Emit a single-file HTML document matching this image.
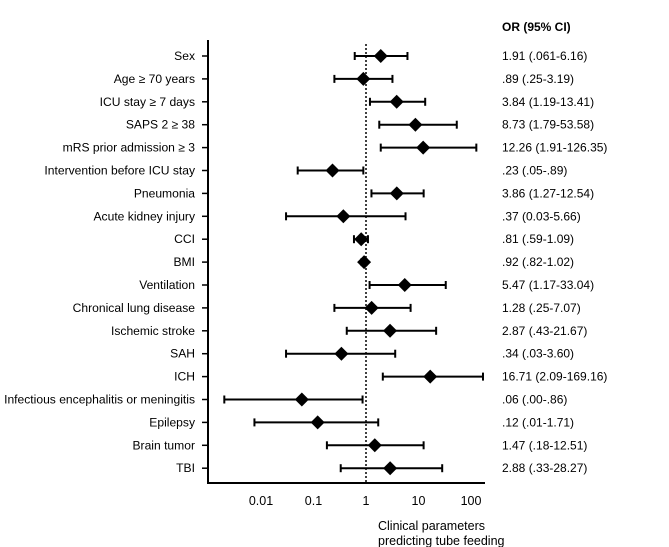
<!DOCTYPE html>
<html><head><meta charset="utf-8"><style>
body{margin:0;background:#fff;}
svg{display:block;font-family:"Liberation Sans",Arial,sans-serif;}
</style></head><body>
<svg id="c" width="669" height="547"></svg>
<script>
const labels=["Sex","Age ≥ 70 years","ICU stay ≥ 7 days","SAPS 2 ≥ 38","mRS prior admission ≥ 3","Intervention before ICU stay","Pneumonia","Acute kidney injury","CCI","BMI","Ventilation","Chronical lung disease","Ischemic stroke","SAH","ICH","Infectious encephalitis or meningitis","Epilepsy","Brain tumor","TBI"];
const orVals=[1.91,0.89,3.84,8.73,12.26,0.23,3.86,0.37,0.81,0.92,5.47,1.28,2.87,0.34,16.71,0.06,0.12,1.47,2.88];
const lowVals=[0.61,0.25,1.19,1.79,1.91,0.05,1.27,0.03,0.59,0.82,1.17,0.25,0.43,0.03,2.09,0.002,0.0075,0.18,0.33];
const highVals=[6.16,3.19,13.41,53.58,126.35,0.89,12.54,5.66,1.09,1.02,33.04,7.07,21.67,3.60,169.16,0.86,1.71,12.51,28.27];
const orText=["1.91 (.061-6.16)",".89 (.25-3.19)","3.84 (1.19-13.41)","8.73 (1.79-53.58)","12.26 (1.91-126.35)",".23 (.05-.89)","3.86 (1.27-12.54)",".37 (0.03-5.66)",".81 (.59-1.09)",".92 (.82-1.02)","5.47 (1.17-33.04)","1.28 (.25-7.07)","2.87 (.43-21.67)",".34 (.03-3.60)","16.71 (2.09-169.16)",".06 (.00-.86)",".12 (.01-1.71)","1.47 (.18-12.51)","2.88 (.33-28.27)"];
const tickVals=[0.01,0.1,1,10,100];
const tickLabels=["0.01","0.1","1","10","100"];
const svg=document.getElementById('c');
const NS='http://www.w3.org/2000/svg';
const xs=v=>366+52.5*Math.log10(v);
const ys=i=>56+i*22.9;
function mk(t,a,p){const e=document.createElementNS(NS,t);for(const k in a)e.setAttribute(k,a[k]);(p||svg).appendChild(e);return e;}
let e;
e=mk('line',{x1:208,y1:40,x2:208,y2:484,stroke:'#000','stroke-width':2});


e=mk('line',{x1:207,y1:483,x2:485,y2:483,stroke:'#000','stroke-width':2});


e=mk('line',{x1:xs(1),y1:44,x2:xs(1),y2:483,stroke:'#000','stroke-width':1.5,'stroke-dasharray':'2,2'});


tickVals.forEach((v,i)=>{
 e=mk('text',{x:xs(v),y:505,'text-anchor':'middle','font-size':12.5});e.textContent=tickLabels[i];
 
 
});
labels.forEach((l,i)=>{
 const y=ys(i);
 e=mk('line',{x1:202,y1:y,x2:208,y2:y,stroke:'#000','stroke-width':1.5});
 
 
 e=mk('text',{x:195,y:y+4,'text-anchor':'end','font-size':12.1});e.textContent=l;
 
 
 const g=mk('g',{});
 
 
 const a=xs(lowVals[i]),b=xs(highVals[i]),c=xs(orVals[i]);
 mk('line',{x1:a,y1:y,x2:b,y2:y,stroke:'#000','stroke-width':2},g);
 mk('line',{x1:a,y1:y-4,x2:a,y2:y+4,stroke:'#000','stroke-width':2},g);
 mk('line',{x1:b,y1:y-4,x2:b,y2:y+4,stroke:'#000','stroke-width':2},g);
 e=mk('polygon',{points:`${c-7},${y} ${c},${y-7} ${c+7},${y} ${c},${y+7}`,fill:'#000'},g);
 
 
 e=mk('text',{x:502,y:y+4,'font-size':12});e.textContent=orText[i];
 
 
});
e=mk('text',{x:502,y:31,'font-size':12,'font-weight':'bold'});e.textContent='OR (95% CI)';


e=mk('text',{x:378,y:530,'font-size':12.5});e.textContent='Clinical parameters';


e=mk('text',{x:378,y:545,'font-size':12.5});e.textContent='predicting tube feeding';


</script>
</body></html>
